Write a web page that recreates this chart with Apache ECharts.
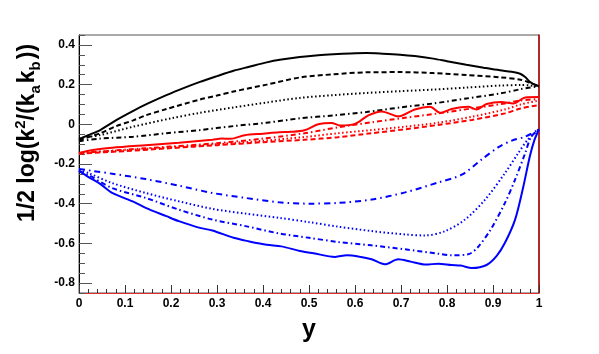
<!DOCTYPE html>
<html>
<head>
<meta charset="utf-8">
<script src="https://cdn.jsdelivr.net/npm/echarts@6/dist/echarts.min.js"></script>
<style>
  html, body { margin: 0; padding: 0; background: #fff; }
  #chart { width: 599px; height: 354px; }
</style>
</head>
<body>
<div id="chart"></div>
<script>
// 刻度
const xTicks = [0, 0.1, 0.2, 0.3, 0.4, 0.5, 0.6, 0.7, 0.8, 0.9, 1];
const yLabels = [-0.8, -0.6, -0.4, -0.2, 0, 0.2, 0.4];
const yMinor = [-0.85, -0.75, -0.7, -0.65, -0.55, -0.5, -0.45, -0.35, -0.3, -0.25,
  -0.15, -0.1, -0.05, 0.05, 0.1, 0.15, 0.25, 0.3, 0.35, 0.45];

// black curves
const blackSolid = [[0,-0.075],[0.02,-0.055],[0.046,-0.029],[0.08,0.02],[0.118,0.068],[0.15,0.105],
  [0.19,0.147],[0.23,0.185],[0.263,0.214],[0.3,0.243],[0.336,0.27],[0.37,0.29],[0.408,0.312],
  [0.44,0.326],[0.48,0.339],[0.52,0.348],[0.553,0.353],[0.59,0.357],[0.625,0.359],[0.66,0.356],
  [0.698,0.351],[0.73,0.344],[0.77,0.331],[0.8,0.318],[0.842,0.3],[0.88,0.285],[0.915,0.272],
  [0.94,0.265],[0.959,0.255],[0.97,0.238],[0.98,0.214],[0.99,0.2],[1,0.192]];
const blackDashed = [[0,-0.08],[0.046,-0.045],[0.08,-0.01],[0.118,0.02],[0.145,0.045],[0.19,0.077],
  [0.263,0.125],[0.3,0.145],[0.336,0.165],[0.408,0.2],[0.48,0.236],[0.553,0.252],[0.625,0.262],
  [0.698,0.263],[0.77,0.258],[0.842,0.248],[0.915,0.237],[0.96,0.225],[0.98,0.21],[1,0.192]];
const blackDotted = [[0,-0.07],[0.046,-0.054],[0.118,-0.012],[0.2,0.03],[0.263,0.058],[0.336,0.085],
  [0.408,0.11],[0.48,0.133],[0.553,0.147],[0.625,0.158],[0.698,0.167],[0.77,0.175],[0.842,0.185],
  [0.915,0.195],[0.96,0.198],[1,0.192]];
const blackDashDot = [[0,-0.085],[0.046,-0.072],[0.118,-0.063],[0.19,-0.045],[0.263,-0.029],
  [0.336,-0.009],[0.408,0.008],[0.48,0.03],[0.553,0.045],[0.625,0.062],[0.698,0.085],[0.77,0.105],
  [0.842,0.13],[0.915,0.155],[0.96,0.177],[1,0.192]];

// red curves
const redSolid = [[0,-0.145],[0.03,-0.13],[0.072,-0.118],[0.145,-0.105],[0.217,-0.093],[0.29,-0.078],
  [0.31,-0.072],[0.33,-0.073],[0.36,-0.055],[0.4,-0.047],[0.435,-0.04],[0.46,-0.038],[0.49,-0.03],
  [0.52,0.0],[0.549,0.007],[0.567,-0.006],[0.6,0.002],[0.629,0.045],[0.658,0.065],[0.694,0.04],
  [0.73,0.075],[0.763,0.088],[0.785,0.058],[0.81,0.077],[0.846,0.088],[0.864,0.075],[0.886,0.102],
  [0.918,0.113],[0.944,0.105],[0.97,0.135],[1,0.137]];
const redDashDot = [[0,-0.145],[0.1,-0.128],[0.2,-0.112],[0.3,-0.095],[0.4,-0.072],[0.49,-0.045],
  [0.563,-0.015],[0.636,0.01],[0.709,0.033],[0.781,0.055],[0.854,0.08],[0.926,0.105],[0.96,0.12],[1,0.127]];
const redDotted = [[0,-0.145],[0.1,-0.13],[0.2,-0.116],[0.3,-0.1],[0.4,-0.083],[0.49,-0.064],
  [0.563,-0.045],[0.636,-0.029],[0.709,-0.012],[0.781,0.008],[0.854,0.038],[0.926,0.075],[0.96,0.1],[1,0.12]];
const redDashed = [[0,-0.148],[0.1,-0.135],[0.2,-0.12],[0.3,-0.105],[0.4,-0.09],[0.49,-0.078],
  [0.563,-0.065],[0.636,-0.045],[0.709,-0.025],[0.781,-0.003],[0.854,0.022],[0.926,0.055],[0.96,0.08],[1,0.097]];

// blue curves
const blueSolid = [[0,-0.235],[0.02,-0.265],[0.046,-0.3],[0.072,-0.346],[0.118,-0.39],[0.145,-0.421],
  [0.19,-0.463],[0.217,-0.488],[0.263,-0.522],[0.29,-0.535],[0.336,-0.572],[0.37,-0.59],[0.408,-0.607],
  [0.44,-0.615],[0.48,-0.638],[0.51,-0.65],[0.557,-0.668],[0.582,-0.66],[0.61,-0.667],[0.636,-0.68],
  [0.665,-0.705],[0.694,-0.68],[0.721,-0.692],[0.754,-0.707],[0.781,-0.702],[0.81,-0.709],
  [0.83,-0.712],[0.854,-0.724],[0.886,-0.709],[0.908,-0.663],[0.926,-0.597],[0.948,-0.48],
  [0.966,-0.313],[0.98,-0.162],[0.99,-0.08],[1,-0.025]];
const blueDashDotLow = [[0,-0.235],[0.02,-0.255],[0.072,-0.321],[0.145,-0.371],[0.217,-0.43],
  [0.29,-0.48],[0.362,-0.513],[0.435,-0.55],[0.5,-0.572],[0.564,-0.593],[0.636,-0.61],[0.709,-0.63],
  [0.781,-0.652],[0.81,-0.66],[0.846,-0.655],[0.866,-0.622],[0.895,-0.53],[0.926,-0.396],
  [0.948,-0.279],[0.97,-0.145],[0.983,-0.062],[1,-0.025]];
const blueDotted = [[0,-0.23],[0.02,-0.245],[0.072,-0.296],[0.145,-0.346],[0.217,-0.388],[0.29,-0.426],
  [0.362,-0.45],[0.435,-0.471],[0.5,-0.493],[0.564,-0.516],[0.636,-0.538],[0.709,-0.555],[0.752,-0.56],
  [0.796,-0.538],[0.839,-0.48],[0.883,-0.379],[0.926,-0.246],[0.955,-0.145],[0.975,-0.079],[1,-0.025]];
const blueDashDotTop = [[0,-0.225],[0.03,-0.235],[0.072,-0.249],[0.145,-0.276],[0.217,-0.309],
  [0.29,-0.346],[0.362,-0.371],[0.435,-0.393],[0.5,-0.4],[0.564,-0.396],[0.636,-0.379],[0.709,-0.343],
  [0.781,-0.293],[0.832,-0.254],[0.876,-0.176],[0.912,-0.115],[0.941,-0.082],[0.97,-0.062],[1,-0.025]];

const DASH = [5, 3];
const DOT = [1.5, 2.5];
const DASHDOT = [5, 3, 1.5, 3];

function curve(data, color, type) {
  return {
    type: "line",
    data: data,
    showSymbol: false,
    smooth: 0.3,
    silent: true,
    lineStyle: { color: color, width: 2, type: type },
  };
}

const chart = echarts.init(document.getElementById("chart"));
const font = "'Liberation Sans', Arial, sans-serif";
const labelStyle = { color: "#000", fontSize: 12, fontWeight: "bold", fontFamily: font };

chart.setOption({
  animation: false,
  backgroundColor: "#fff",
  grid: { left: 79, right: 60, top: 35, bottom: 61, show: true, borderColor: "#555", borderWidth: 1 },
  xAxis: {
    type: "value",
    min: 0,
    max: 1,
    interval: 0.1,
    axisLine: { show: true, onZero: false, lineStyle: { color: "#e03030", width: 1 } },
    axisTick: { show: true, inside: true, length: 8, lineStyle: { color: "#333" } },
    minorTick: { show: true, splitNumber: 5, length: 4, lineStyle: { color: "#333" } },
    splitLine: { show: false },
    axisLabel: Object.assign({ margin: 5, customValues: xTicks }, labelStyle),
  },
  yAxis: [
    {
      type: "value",
      min: -0.85,
      max: 0.45,
      axisLine: { show: true, onZero: false, lineStyle: { color: "#000", width: 1 } },
      axisTick: { show: true, inside: true, length: 13, customValues: yLabels, lineStyle: { color: "#555" } },
      splitLine: { show: false },
      axisLabel: Object.assign({ margin: 4, customValues: yLabels, formatter: (v) => String(v) }, labelStyle),
    },
    {
      type: "value",
      min: -0.85,
      max: 0.45,
      position: "left",
      axisLine: { show: false, onZero: false },
      axisTick: { show: true, inside: true, length: 6, customValues: yMinor, lineStyle: { color: "#555" } },
      axisLabel: { show: false },
      splitLine: { show: false },
    },
    {
      type: "value",
      min: -0.85,
      max: 0.45,
      position: "right",
      axisLine: { show: true, onZero: false, lineStyle: { color: "#b00000", width: 1.5 } },
      axisTick: { show: false },
      axisLabel: { show: false },
      splitLine: { show: false },
    },
  ],
  series: [
    curve(blackSolid, "#000", "solid"),
    curve(blackDashed, "#000", DASH),
    curve(blackDotted, "#000", DOT),
    curve(blackDashDot, "#000", DASHDOT),
    curve(redSolid, "#ff0000", "solid"),
    curve(redDashDot, "#ff0000", DASHDOT),
    curve(redDotted, "#ff0000", DOT),
    curve(redDashed, "#ff0000", DASH),
    curve(blueSolid, "#0000ff", "solid"),
    curve(blueDashDotLow, "#0000ff", DASHDOT),
    curve(blueDotted, "#0000ff", DOT),
    curve(blueDashDotTop, "#0000ff", [6, 4, 1.5, 4]),
  ],
  graphic: [
    {
      type: "text",
      x: 28,
      y: 133,
      rotation: Math.PI / 2,
      style: {
        text: "{t|1/2 log(k}{s|2}{t|/(k}{b|a}{t|k}{b|b}{t|))}",
        align: "center",
        verticalAlign: "middle",
        fill: "#000",
        rich: {
          t: { fontSize: 23, fontWeight: "bold", fontFamily: font, lineHeight: 30, verticalAlign: "middle" },
          s: { fontSize: 15, fontWeight: "bold", fontFamily: font, lineHeight: 16, verticalAlign: "top" },
          b: { fontSize: 15, fontWeight: "bold", fontFamily: font, lineHeight: 14, verticalAlign: "bottom", padding: [0, 2, 0, 0] },
        },
      },
    },
    {
      type: "text",
      x: 309,
      y: 330,
      style: {
        text: "y",
        align: "center",
        verticalAlign: "middle",
        fill: "#000",
        fontSize: 25,
        fontWeight: "bold",
        fontFamily: font,
      },
    },
  ],
});
</script>
</body>
</html>
